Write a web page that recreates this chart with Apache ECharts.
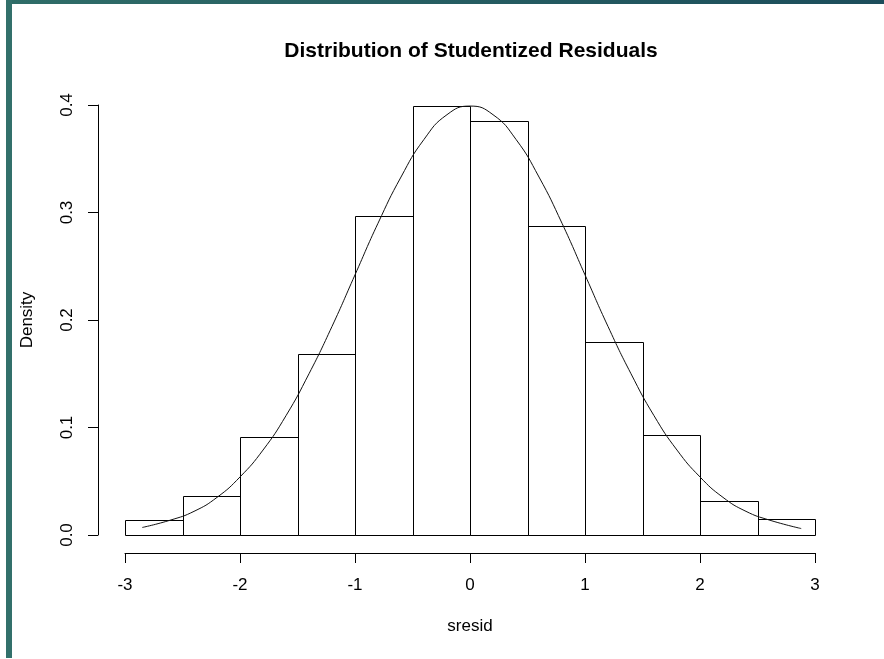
<!DOCTYPE html>
<html>
<head>
<meta charset="utf-8">
<script src="https://cdn.jsdelivr.net/npm/echarts@6/dist/echarts.min.js"></script>
<style>
  html, body { margin: 0; padding: 0; background: #fff; }
  #frame-top { position: absolute; left: 6px; top: 0; width: 878px; height: 4px;
    background: linear-gradient(to right, #2f6d68, #1c4d5b); }
  #frame-left { position: absolute; left: 6px; top: 0; width: 6px; height: 658px; background: #32706b; }
  #chart { position: absolute; left: 0; top: 0; width: 884px; height: 659px; }
</style>
</head>
<body>
<div id="chart"></div>
<div id="frame-top"></div>
<div id="frame-left"></div>
<script>
// Histogram bins of studentized residuals (bin edges and densities)
const binStarts = [-3, -2.5, -2, -1.5, -1, -0.5, 0, 0.5, 1, 1.5, 2, 2.5];
const binEnds   = [-2.5, -2, -1.5, -1, -0.5, 0, 0.5, 1, 1.5, 2, 2.5, 3];
const binDensity = [0.014, 0.036, 0.091, 0.168, 0.297, 0.399, 0.385, 0.287, 0.180, 0.093, 0.032, 0.015];

// Overlaid density curve
const curveX = [-2.85, -2.6, -2.4, -2.2, -2.0, -1.8, -1.6, -1.4, -1.2, -1.0, -0.8, -0.6, -0.4, -0.2, 0.0,
                0.2, 0.4, 0.6, 0.8, 1.0, 1.2, 1.4, 1.6, 1.8, 2.0, 2.2, 2.4, 2.6, 2.88];
const curveY = [0.007, 0.014, 0.022, 0.035, 0.054, 0.079, 0.111, 0.150, 0.194, 0.242, 0.290, 0.333, 0.368, 0.391, 0.399,
                0.391, 0.368, 0.333, 0.290, 0.242, 0.194, 0.150, 0.111, 0.079, 0.054, 0.035, 0.022, 0.014, 0.006];

// Axis ticks
const xTicks = [-3, -2, -1, 0, 1, 2, 3];
const yTicks = [0.0, 0.1, 0.2, 0.3, 0.4];

const FONT = 'Liberation Sans, Arial, sans-serif';

const barData = binStarts.map((s, i) => [s, binEnds[i], binDensity[i]]);
const curveData = curveX.map((x, i) => [x, curveY[i]]);

const chart = echarts.init(document.getElementById('chart'), null, { renderer: 'canvas' });
chart.setOption({
  animation: false,
  backgroundColor: '#ffffff',
  title: {
    text: 'Distribution of Studentized Residuals',
    left: 466, top: 36, textAlign: 'center',
    textStyle: { fontFamily: FONT, fontSize: 21, fontWeight: 'bold', color: '#000' }
  },
  grid: { left: 125, right: 69, top: 105, bottom: 124 },
  xAxis: {
    type: 'value', min: -3, max: 3, interval: 1,
    offset: 18,
    name: 'sresid', nameLocation: 'middle', nameGap: 65,
    nameTextStyle: { fontFamily: FONT, fontSize: 17, color: '#000' },
    axisLine: { show: true, onZero: false, lineStyle: { color: '#000', width: 1 } },
    axisTick: { show: true, length: 10, lineStyle: { color: '#000' } },
    axisLabel: { fontFamily: FONT, fontSize: 17, color: '#000', margin: 24,
      formatter: v => xTicks.includes(v) ? String(v) : '' },
    splitLine: { show: false }
  },
  yAxis: {
    type: 'value', min: 0, max: 0.4, interval: 0.1,
    offset: 27,
    name: 'Density', nameLocation: 'middle', nameGap: 62, nameRotate: 90,
    nameTextStyle: { fontFamily: FONT, fontSize: 17, color: '#000' },
    axisLine: { show: true, onZero: false, lineStyle: { color: '#000', width: 1 } },
    axisTick: { show: true, length: 10, lineStyle: { color: '#000' } },
    axisLabel: { fontFamily: FONT, fontSize: 17, color: '#000', rotate: 90, margin: 22,
      formatter: v => yTicks.find(t => Math.abs(t - v) < 1e-9) !== undefined ? v.toFixed(1) : '' },
    splitLine: { show: false }
  },
  series: [
    {
      type: 'custom',
      data: barData,
      encode: { x: [0, 1], y: 2 },
      renderItem: function (params, api) {
        const p0 = api.coord([api.value(0), 0]);
        const p1 = api.coord([api.value(1), api.value(2)]);
        return {
          type: 'rect',
          shape: { x: Math.round(p0[0]) + 0.5, y: Math.round(p1[1]) + 0.5,
                   width: Math.round(p1[0]) - Math.round(p0[0]),
                   height: Math.round(p0[1]) - Math.round(p1[1]) },
          style: { fill: 'none', stroke: '#000', lineWidth: 1 }
        };
      },
      z: 2
    },
    {
      type: 'line',
      data: curveData,
      showSymbol: false,
      smooth: true,
      lineStyle: { color: '#111', width: 1 },
      z: 3
    }
  ]
});
</script>
</body>
</html>
